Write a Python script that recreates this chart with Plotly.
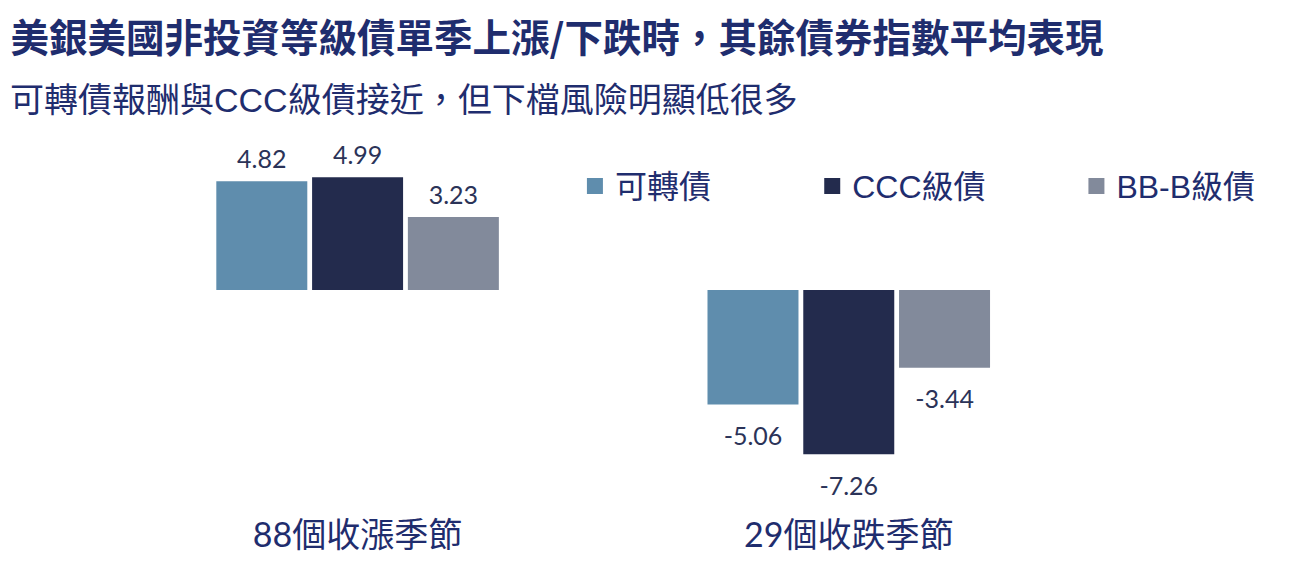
import plotly.graph_objects as go

# data
categories = ["88個收漲季節", "29個收跌季節"]
series_names = ["可轉債", "CCC級債", "BB-B級債"]
convertible = [4.82, -5.06]
ccc = [4.99, -7.26]
bb_b = [3.23, -3.44]

title_text = "美銀美國非投資等級債單季上漲/下跌時，其餘債券指數平均表現"
subtitle_text = "可轉債報酬與CCC級債接近，但下檔風險明顯低很多"

colors = ["#5f8dad", "#232b4d", "#828a9b"]
navy = "#1f2d6e"
label_color = "#2b3358"
legend_ids = ["legend", "legend2", "legend3"]
legend_x = [0.396, 0.599, 0.825]

fig = go.Figure()

for i, (name, vals) in enumerate(zip(series_names, [convertible, ccc, bb_b])):
    # bars
    fig.add_trace(go.Bar(
        x=categories, y=vals,
        name=name,
        marker=dict(color=colors[i], line=dict(width=0)),
        offsetgroup=str(i),
        showlegend=False,
        hoverinfo="skip",
    ))
    # value labels (invisible markers push the text off the bar end)
    fig.add_trace(go.Scatter(
        x=categories, y=vals,
        mode="markers+text",
        text=[f"{v:.2f}" for v in vals],
        textposition=["top center" if v > 0 else "bottom center" for v in vals],
        textfont=dict(family="Lato, Noto Sans CJK TC", size=25, color=label_color),
        marker=dict(size=[10 if v > 0 else 33 for v in vals],
                    color="rgba(0,0,0,0)", line=dict(width=0)),
        offsetgroup=str(i),
        showlegend=False,
        hoverinfo="skip",
        cliponaxis=False,
    ))
    # legend entry, one small legend each so they can be spaced like the original
    fig.add_trace(go.Scatter(
        x=[None], y=[None],
        mode="markers",
        name=name,
        marker=dict(symbol="square", size=16, color=colors[i], line=dict(width=0)),
        offsetgroup=str(i),
        legend=legend_ids[i],
    ))

legend_style = dict(
    orientation="h",
    y=0.876, yanchor="middle",
    xanchor="left",
    font=dict(family="Liberation Sans, Noto Sans CJK TC", size=32, color=navy),
    bgcolor="rgba(0,0,0,0)",
)

fig.update_layout(
    width=1301, height=561,
    margin=dict(l=104, r=28, t=132, b=57),
    paper_bgcolor="white",
    plot_bgcolor="white",
    barmode="group",
    scattermode="group",
    bargap=0.415,
    bargroupgap=0.05,
    title=dict(
        text=f"<b>{title_text}</b>",
        x=0.002, xanchor="left",
        y=0.945, yanchor="middle", yref="container",
        font=dict(family="Noto Sans CJK TC", size=38.5, color=navy),
    ),
    legend=dict(x=legend_x[0], **legend_style),
    legend2=dict(x=legend_x[1], **legend_style),
    legend3=dict(x=legend_x[2], **legend_style),
    annotations=[dict(
        text=subtitle_text,
        xref="paper", yref="paper",
        x=-0.088, xanchor="left",
        y=1.107, yanchor="middle",
        showarrow=False, borderpad=0,
        font=dict(family="Liberation Sans, Noto Sans CJK TC", size=34, color=navy),
    )],
)

fig.update_xaxes(
    range=[-0.5, 1.88],
    showgrid=False, zeroline=False, showline=False, ticks="",
    tickfont=dict(family="Lato, Noto Sans CJK TC", size=34, color=navy),
    automargin=False,
)
fig.update_yaxes(
    range=[-9.82, 6.64],
    showgrid=False, zeroline=False, showline=False,
    showticklabels=False, ticks="",
)

fig.write_html("out.html")
